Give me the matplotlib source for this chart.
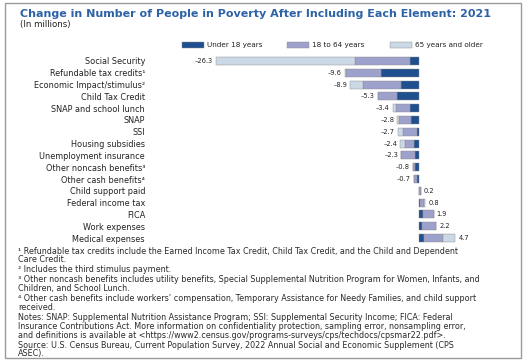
import matplotlib
matplotlib.use('Agg')
import matplotlib.pyplot as plt
from matplotlib.patches import Rectangle

categories = ['Social Security', 'Refundable tax credits¹', 'Economic Impact/stimulus²',
              'Child Tax Credit', 'SNAP and school lunch', 'SNAP', 'SSI',
              'Housing subsidies', 'Unemployment insurance', 'Other noncash benefits³',
              'Other cash benefits⁴', 'Child support paid', 'Federal income tax',
              'FICA', 'Work expenses', 'Medical expenses']
totals = [-26.3, -9.6, -8.9, -5.3, -3.4, -2.8, -2.7, -2.4, -2.3, -0.8, -0.7,
          0.2, 0.8, 1.9, 2.2, 4.7]
under18 = [-1.2, -4.9, -2.3, -2.9, -1.2, -1.0, -0.3, -0.6, -0.5, -0.5, -0.3,
           0.0, 0.1, 0.5, 0.4, 0.6]
age18_64 = [-7.1, -4.6, -4.9, -2.4, -1.8, -1.6, -1.8, -1.2, -1.8, -0.3, -0.4,
            0.2, 0.5, 1.4, 1.8, 2.5]
age65 = [-18.0, -0.1, -1.7, 0.0, -0.4, -0.2, -0.6, -0.6, 0.0, 0.0, 0.0,
         0.0, 0.2, 0.0, 0.0, 1.6]

series_labels = ['Under 18 years', '18 to 64 years', '65 years and older']
colors = ['#1f4f8f', '#9ea1cb', '#cbd8e6']

footnotes = [
    ['¹ Refundable tax credits include the Earned Income Tax Credit, Child Tax Credit, and the Child and Dependent',
     'Care Credit.'],
    ['² Includes the third stimulus payment.'],
    ['³ Other noncash benefits includes utility benefits, Special Supplemental Nutrition Program for Women, Infants, and',
     'Children, and School Lunch.'],
    ['⁴ Other cash benefits include workers\u2019 compensation, Temporary Assistance for Needy Families, and child support',
     'received.'],
    ['Notes: SNAP: Supplemental Nutrition Assistance Program; SSI: Supplemental Security Income; FICA: Federal',
     'Insurance Contributions Act. More information on confidentiality protection, sampling error, nonsampling error,',
     'and definitions is available at <https://www2.census.gov/programs-surveys/cps/techdocs/cpsmar22.pdf>.'],
    ['Source: U.S. Census Bureau, Current Population Survey, 2022 Annual Social and Economic Supplement (CPS',
     'ASEC).'],
]

W, H = 527, 361
fig = plt.figure(figsize=(W / 100, H / 100), dpi=100)
fig.patch.set_facecolor('white')

def fx(px):
    return px / W

def fy(py):
    return 1 - py / H

# outer frame
fig.patches.append(Rectangle((fx(5), fy(358)), fx(516), 355 / H, transform=fig.transFigure,
                             fill=False, edgecolor='#9a9a9a', linewidth=1.0))

fig.text(fx(20), fy(14), 'Change in Number of People in Poverty After Including Each Element: 2021',
         fontsize=8, fontweight='bold', color='#2d63a6', va='center', ha='left')
fig.text(fx(20), fy(24), '(In millions)', fontsize=6.2, color='#222222', va='center', ha='left')

# legend
leg_x = [182, 287, 390]
for x0, lab, c in zip(leg_x, series_labels, colors):
    fig.patches.append(Rectangle((fx(x0), fy(48)), fx(22), 6 / H, transform=fig.transFigure,
                                 facecolor=c, edgecolor='#8a8a8a', linewidth=0.3))
    fig.text(fx(x0 + 25), fy(45), lab, fontsize=5.2, color='#222222', va='center', ha='left')

# axes: zero at x=419px, -26.3 at x=216px
scale = (419 - 216) / 26.3
ax_l, ax_r = 200, 505
ax_top, ax_bot = 55, 244
ax = fig.add_axes([fx(ax_l), fy(ax_bot), fx(ax_r - ax_l), (ax_bot - ax_top) / H])
ax.set_xlim(-(419 - ax_l) / scale, (ax_r - 419) / scale)
ax.set_ylim(len(categories) - 0.5, -0.5)

y = list(range(len(categories)))
start = [0.0] * len(categories)
for vals, c in zip([under18, age18_64, age65], colors):
    ax.barh(y, vals, left=start, height=0.68, color=c, edgecolor='#8a8a8a', linewidth=0.3)
    start = [s + v for s, v in zip(start, vals)]

for yi, t in zip(y, totals):
    if t < 0:
        ax.text(t - 0.4, yi, f'{t:.1f}'.replace('-', '\u2013'), ha='right', va='center',
                fontsize=4.8, color='#222222')
    else:
        ax.text(t + 0.4, yi, f'{t:.1f}', ha='left', va='center', fontsize=4.8, color='#222222')

ax.set_yticks(y)
ax.set_yticklabels(categories, fontsize=5.9, color='#222222')
ax.tick_params(axis='y', length=0, pad=(ax_l - 145) * 0.72)
ax.set_xticks([])
for s in ax.spines.values():
    s.set_visible(False)
ax.patch.set_alpha(0)

# footnotes
ypos = 251
for para in footnotes:
    for line in para:
        fig.text(fx(18), fy(ypos), line, fontsize=5.8, color='#2a2a2a', va='center', ha='left')
        ypos += 8.8
    ypos += 1.2

fig.savefig('out.png', dpi=100)
